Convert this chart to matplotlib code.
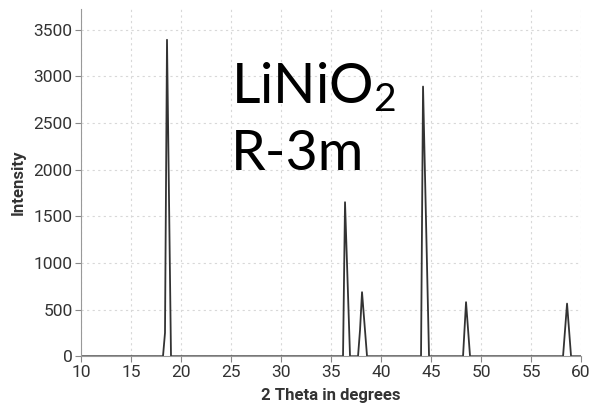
import matplotlib.pyplot as plt

# --- Data: XRD pattern of LiNiO2 ---
two_theta = [10.0, 18.2, 18.4, 18.6, 19.0,
             36.2, 36.4, 36.9,
             37.7, 37.9, 38.1, 38.6,
             44.0, 44.2, 44.8,
             48.2, 48.5, 48.9,
             58.2, 58.6, 59.0, 60.0]
intensity = [0, 0, 250, 3390, 0,
             0, 1650, 0,
             0, 280, 686, 0,
             0, 2889, 0,
             0, 579, 0,
             0, 564, 0, 0]

x_ticks = [10, 15, 20, 25, 30, 35, 40, 45, 50, 55, 60]
y_ticks = [0, 500, 1000, 1500, 2000, 2500, 3000, 3500]

plt.rcParams['font.family'] = ['Roboto', 'DejaVu Sans']
plt.rcParams['mathtext.fontset'] = 'custom'
plt.rcParams['mathtext.rm'] = 'Lato'

fig = plt.figure(figsize=(5.89, 4.09), dpi=100)
ax = fig.add_axes([0.1375, 0.129, 0.849, 0.849])

ax.plot(two_theta, intensity, color='#333333', linewidth=1.3)

ax.set_xlim(10, 60)
ax.set_ylim(0, 3720)
ax.set_xticks(x_ticks)
ax.set_yticks(y_ticks)
ax.tick_params(labelsize=12.5, colors='#333333', length=4, color='#888888', pad=2)
ax.grid(True, linestyle=(0, (2, 3)), color='#d8d8d8', linewidth=0.8)

for side in ['top', 'right']:
    ax.spines[side].set_visible(False)
for side in ['left', 'bottom']:
    ax.spines[side].set_color('#999999')

ax.set_xlabel('2 Theta in degrees', fontsize=12, fontweight='bold', color='#333333', labelpad=6)
ax.set_ylabel('Intensity', fontsize=12, fontweight='bold', color='#333333', labelpad=6)

# label, placed by baseline in data coordinates
ax.text(25.0, 2705, r'$\mathregular{LiNiO_2}$', fontsize=40, family='Lato',
        va='baseline', ha='left', color='black')
ax.text(25.0, 2000, 'R-3m', fontsize=40, family='Lato',
        va='baseline', ha='left', color='black')

fig.savefig('out.png', dpi=100)
